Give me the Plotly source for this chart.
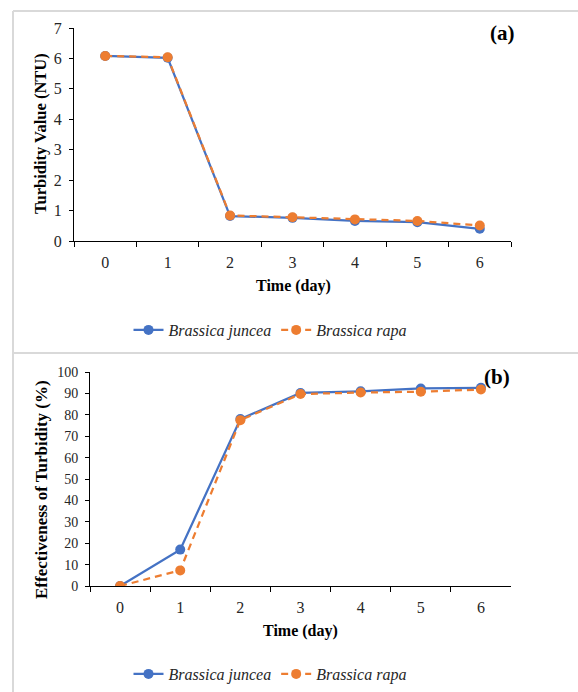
import plotly.graph_objects as go

W, H = 578, 692

days = ["0", "1", "2", "3", "4", "5", "6"]
turb_juncea = [6.08, 6.02, 0.82, 0.76, 0.66, 0.62, 0.40]
turb_rapa = [6.08, 6.04, 0.84, 0.78, 0.71, 0.66, 0.51]
eff_juncea = [0.0, 17.0, 78.0, 90.2, 91.0, 92.3, 92.6]
eff_rapa = [0.0, 7.3, 77.5, 89.7, 90.4, 90.8, 91.8]

BLUE = "#4472C4"
ORANGE = "#ED7D31"
FONT = "Liberation Serif"
TXT = "#262626"


def px_x(x):
    return x / W


def px_y(y):
    return 1 - y / H


fig = go.Figure()

for xa, ya, yj, yr, lg in [("x", "y", turb_juncea, turb_rapa, "legend"),
                           ("x2", "y2", eff_juncea, eff_rapa, "legend2")]:
    fig.add_trace(go.Scatter(
        x=days, y=yj, mode="lines+markers", name="<i>Brassica juncea</i>",
        line=dict(color=BLUE, width=2.25), marker=dict(color=BLUE, size=10),
        xaxis=xa, yaxis=ya, legend=lg))
    fig.add_trace(go.Scatter(
        x=days, y=yr, mode="lines+markers", name="<i>Brassica rapa</i>",
        line=dict(color=ORANGE, width=2.25, dash="7px,5px"),
        marker=dict(color=ORANGE, size=10),
        xaxis=xa, yaxis=ya, legend=lg))


def xaxis_cfg(size):
    return dict(type="category", showgrid=False, showline=True, linecolor="#000000",
                linewidth=1, ticks="outside", ticklen=5, tickcolor="#000000",
                tickson="boundaries", ticklabelstandoff=7,
                tickfont=dict(family=FONT, size=size, color=TXT),
                zeroline=False, fixedrange=True)


def yaxis_cfg(size):
    return dict(showgrid=False, showline=True, linecolor="#000000", linewidth=1,
                ticks="outside", ticklen=4, tickcolor="#000000", ticklabelstandoff=4,
                tickfont=dict(family=FONT, size=size, color=TXT), zeroline=False)


fig.update_layout(
    width=W, height=H,
    margin=dict(l=0, r=0, t=0, b=0, autoexpand=False),
    paper_bgcolor="white", plot_bgcolor="white",
    xaxis=dict(domain=[px_x(74), px_x(511)], anchor="y", range=[-0.5, 6.5], **xaxis_cfg(16)),
    yaxis=dict(domain=[px_y(241), px_y(28)], anchor="x", range=[0, 7], dtick=1, **yaxis_cfg(16)),
    xaxis2=dict(domain=[px_x(90), px_x(511)], anchor="y2", range=[-0.5, 6.5], **xaxis_cfg(16)),
    yaxis2=dict(domain=[px_y(586), px_y(372)], anchor="x2", range=[0, 100], dtick=10, **yaxis_cfg(14)),
    legend=dict(orientation="h", x=px_x(270), xanchor="center", y=px_y(330), yanchor="middle",
                font=dict(family=FONT, size=16, color=TXT), bgcolor="rgba(0,0,0,0)"),
    legend2=dict(orientation="h", x=px_x(270), xanchor="center", y=px_y(674), yanchor="middle",
                 font=dict(family=FONT, size=16, color=TXT), bgcolor="rgba(0,0,0,0)"),
    showlegend=True,
)

annots = [
    dict(text="<b>Turbidity Value (NTU)</b>", x=px_x(40), y=px_y(134), textangle=-90, size=16.5),
    dict(text="<b>Time (day)</b>", x=px_x(293), y=px_y(286), textangle=0, size=16),
    dict(text="<b>(a)</b>", x=px_x(502), y=px_y(33), textangle=0, size=21),
    dict(text="<b>Effectiveness of Turbidity (%)</b>", x=px_x(41), y=px_y(490), textangle=-90, size=17),
    dict(text="<b>Time (day)</b>", x=px_x(300), y=px_y(631), textangle=0, size=16),
    dict(text="<b>(b)</b>", x=px_x(497), y=px_y(377), textangle=0, size=21),
]
for a in annots:
    fig.add_annotation(text=a["text"], x=a["x"], y=a["y"], xref="paper", yref="paper",
                       xanchor="center", yanchor="middle", showarrow=False,
                       textangle=a["textangle"],
                       font=dict(family=FONT, size=a["size"], color="#000000"))

BORDER = "#d9d9d9"
fig.add_shape(type="line", xref="paper", yref="paper", x0=px_x(13), x1=1.0,
              y0=px_y(11), y1=px_y(11), line=dict(color=BORDER, width=2))
fig.add_shape(type="line", xref="paper", yref="paper", x0=px_x(13), x1=1.0,
              y0=px_y(353), y1=px_y(353), line=dict(color=BORDER, width=2))
fig.add_shape(type="line", xref="paper", yref="paper", x0=px_x(13), x1=px_x(13),
              y0=px_y(11), y1=0.0, line=dict(color=BORDER, width=2))

fig.write_html("out.html", config={"displayModeBar": False},
               post_script="document.body.style.margin='0px';document.body.style.overflow='hidden';")
